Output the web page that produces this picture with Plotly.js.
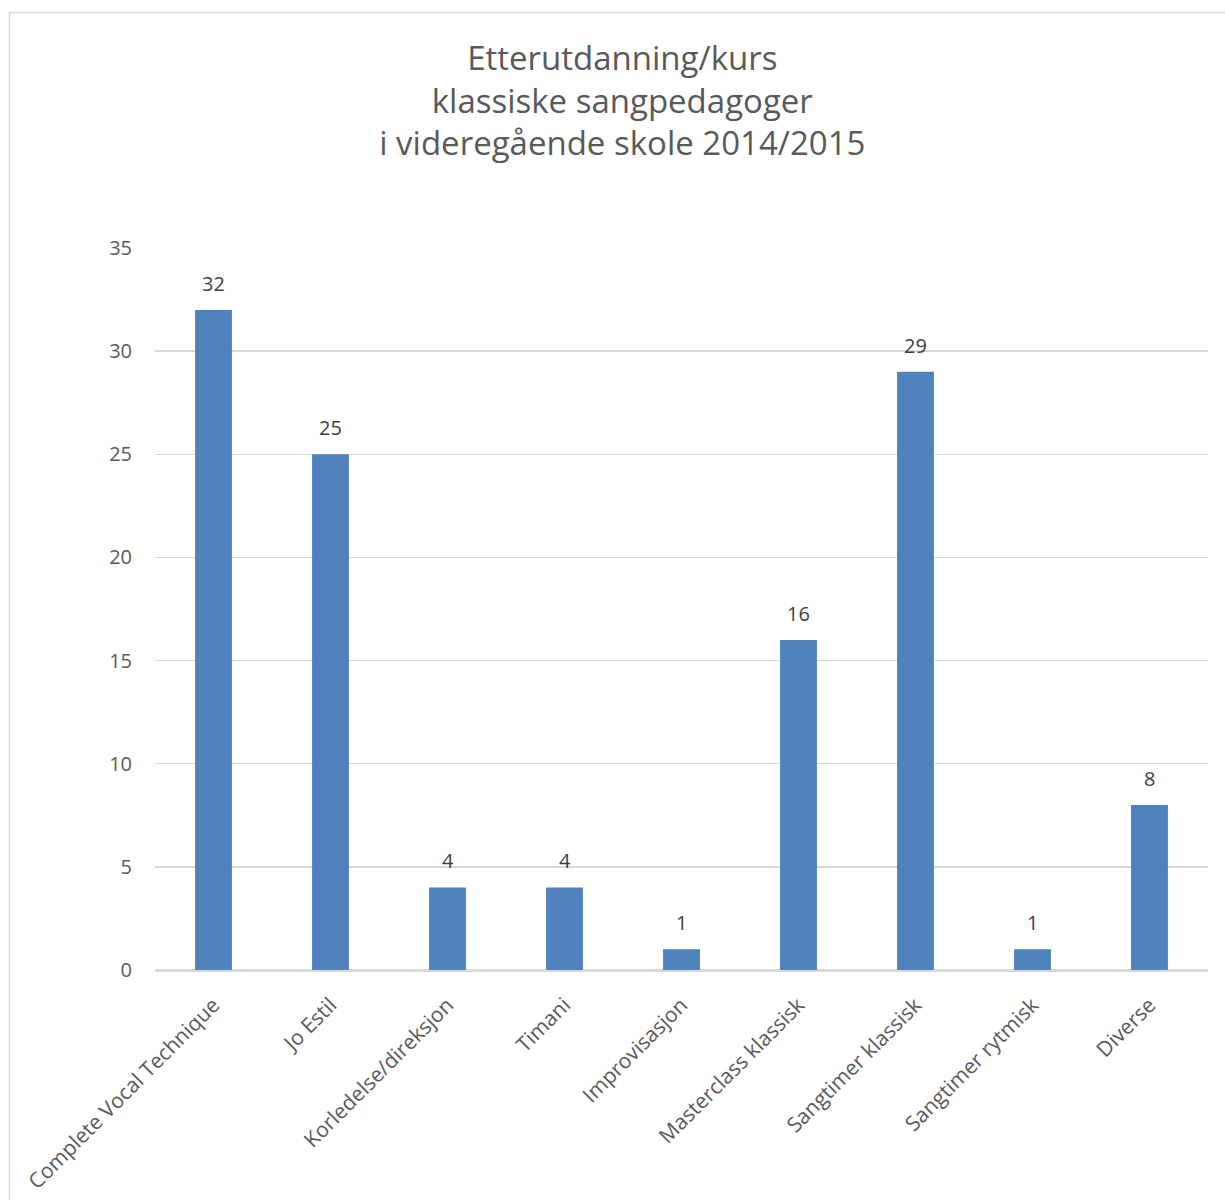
<!DOCTYPE html>
<html>
<head>
<meta charset="utf-8">
<script src="https://cdn.plot.ly/plotly-3.0.1.min.js"></script>
<style>html,body{margin:0;padding:0;background:#fff;}#chart{width:1225px;height:1200px;}</style>
</head>
<body>
<div id="chart"></div>
<script>
const categories = ["Complete Vocal Technique", "Jo Estil", "Korledelse/direksjon", "Timani", "Improvisasjon", "Masterclass klassisk", "Sangtimer klassisk", "Sangtimer rytmisk", "Diverse"];
const values = [32, 25, 4, 4, 1, 16, 29, 1, 8];
const titleText = "Etterutdanning/kurs<br>klassiske sangpedagoger<br>i videregående skole 2014/2015";
const yTicks = [0, 5, 10, 15, 20, 25, 30, 35];

const FONT = "Open Sans, Noto Sans, sans-serif";

const trace = {
  type: "bar",
  x: categories,
  y: values,
  marker: {color: "#4F81BD", line: {width: 0}},
  hoverinfo: "x+y"
};

const annotations = categories.map((c, i) => ({
  x: c, y: values[i], xref: "x", yref: "y",
  text: String(values[i]), showarrow: false,
  yanchor: "bottom", yshift: 11,
  font: {family: FONT, size: 20, color: "#404040"}
}));

const layout = {
  width: 1225, height: 1200,
  margin: {l: 155, r: 17, t: 248, b: 230},
  paper_bgcolor: "#ffffff", plot_bgcolor: "#ffffff",
  showlegend: false,
  bargap: 0.685,
  title: {
    text: titleText,
    x: 0.508, xref: "container", xanchor: "center",
    y: 0.942, yref: "container", yanchor: "top",
    font: {family: FONT, size: 33, color: "#595959"}
  },
  xaxis: {
    type: "category",
    tickangle: -45,
    tickfont: {family: FONT, size: 21, color: "#595959"},
    ticks: "outside", ticklen: 13, tickcolor: "rgba(0,0,0,0)",
    showline: true, linecolor: "#D9D9D9", linewidth: 1.5,
    showgrid: false, zeroline: false, fixedrange: true
  },
  yaxis: {
    range: [0, 35],
    tickvals: yTicks,
    ticktext: yTicks.map(String),
    tickfont: {family: FONT, size: 20, color: "#595959"},
    ticks: "outside", ticklen: 18, tickcolor: "rgba(0,0,0,0)",
    showgrid: true, gridcolor: "#D9D9D9", gridwidth: 1.5,
    zeroline: true, zerolinecolor: "#D9D9D9", zerolinewidth: 1.5,
    showline: false, fixedrange: true
  },
  annotations: annotations,
  shapes: [{
    type: "rect", xref: "paper", yref: "paper",
    x0: (9.5 - 155) / 1053, x1: 1.2,
    y0: -0.5, y1: (970 - 12.5) / 722,
    line: {color: "#D9D9D9", width: 1.5}, fillcolor: "rgba(0,0,0,0)", layer: "below"
  }]
};

Plotly.newPlot("chart", [trace], layout, {displayModeBar: false, staticPlot: true});
</script>
</body>
</html>
